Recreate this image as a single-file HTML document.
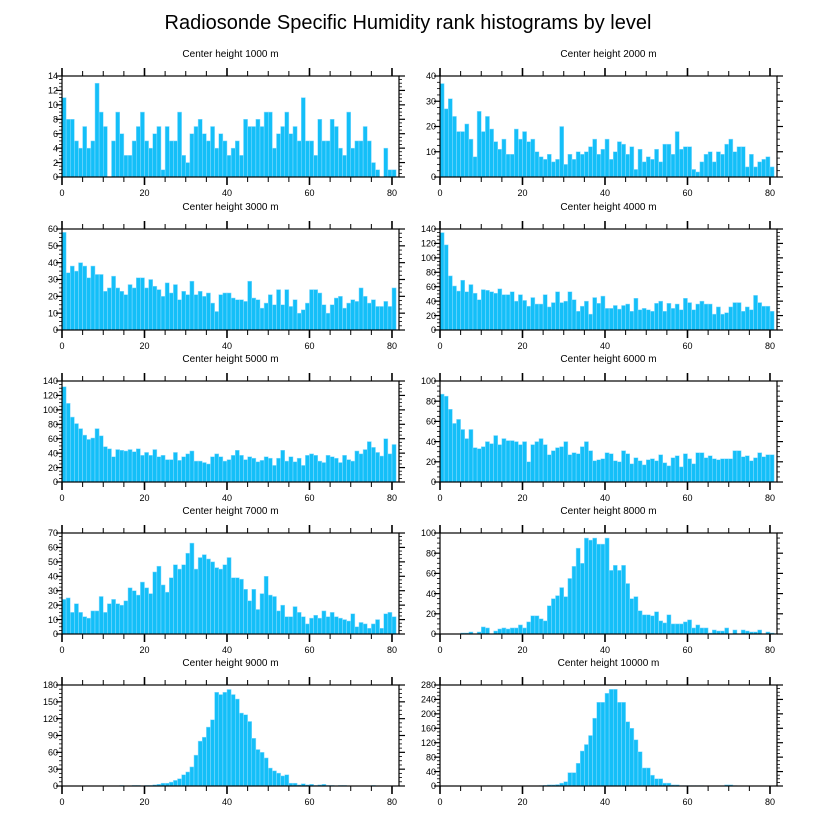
<!DOCTYPE html>
<html><head><meta charset="utf-8">
<style>
html,body{margin:0;padding:0;background:#fff;}
svg{display:block;font-family:"Liberation Sans",sans-serif;}
</style></head>
<body>
<svg id="chart" width="816" height="824" viewBox="0 0 816 824">
<text x="408" y="29" text-anchor="middle" font-size="20" fill="#000">Radiosonde Specific Humidity rank histograms by level</text>
</svg>
<script>
const panelTitles = ["Center height 1000 m","Center height 2000 m","Center height 3000 m","Center height 4000 m","Center height 5000 m","Center height 6000 m","Center height 7000 m","Center height 8000 m","Center height 9000 m","Center height 10000 m"];
const yMaxes = [14,40,60,140,140,100,70,100,180,280];
const yStepsMajor = [2,10,10,20,20,20,10,20,30,40];
const xTicks = [0,20,40,60,80];
const h1000 = [11,8,8,5,4,7,4,5,13,9,7,0,5,9,6,3,3,5,7,9,5,4,6,7,1,7,5,5,9,3,2,6,7,8,6,5,7,4,6,5,3,4,5,3,8,7,7,8,7,9,9,4,6,7,9,6,7,5,11,5,5,3,8,5,5,8,7,4,3,9,4,5,5,7,5,2,1,0,4,1,1];
const h2000 = [37,27,31,24,18,18,21,15,8,26,18,24,19,14,11,15,9,9,19,15,18,14,15,10,8,7,9,6,7,20,5,9,7,10,9,10,12,15,9,11,15,7,10,14,13,9,12,3,11,6,8,7,11,6,13,13,9,18,11,12,12,3,2,6,9,10,6,10,9,13,15,10,12,12,4,9,4,6,7,8,4];
const h3000 = [58,34,38,35,40,38,31,38,33,33,23,25,32,25,23,21,27,25,31,31,25,30,26,24,20,28,22,27,18,23,21,29,21,23,20,22,16,11,21,22,22,19,18,18,17,29,19,18,13,16,21,15,24,15,24,14,18,10,12,16,24,24,22,15,10,15,19,20,13,16,18,17,25,20,16,18,14,14,17,14,25];
const h4000 = [135,118,75,61,54,69,53,63,51,42,56,55,53,51,57,49,49,53,40,49,41,33,45,36,36,49,32,38,53,38,40,53,42,26,33,40,22,45,37,47,30,30,34,29,34,36,26,44,28,30,28,26,37,40,26,37,30,36,28,44,38,28,36,40,36,36,22,32,22,24,32,38,38,26,32,28,48,38,33,33,26];
const h5000 = [132,109,90,81,74,65,59,61,74,64,49,46,35,45,44,43,45,42,46,37,41,37,45,35,37,31,31,41,30,35,39,43,29,29,27,25,35,39,35,29,31,37,44,37,31,35,33,28,30,35,33,23,33,44,29,35,28,33,23,37,39,37,29,27,37,35,33,27,37,31,29,43,39,45,56,48,41,36,60,39,52];
const h6000 = [87,85,72,58,62,52,43,52,34,33,35,40,38,46,37,43,41,41,40,37,40,20,37,40,43,37,27,31,34,35,40,27,29,28,35,40,31,21,22,23,29,28,21,20,31,28,18,24,21,17,22,23,21,27,19,16,24,26,15,28,23,18,29,29,24,26,23,22,23,23,23,31,31,25,26,21,24,29,25,27,27];
const h7000 = [24,25,15,21,15,12,11,16,16,26,15,21,24,21,20,23,32,30,27,36,32,28,43,47,34,29,39,48,45,48,56,63,45,53,55,52,50,46,45,48,53,39,39,38,31,23,31,17,28,40,27,26,16,20,12,12,19,15,12,7,11,13,11,16,12,15,12,11,10,9,14,5,8,7,4,7,10,4,14,15,12];
const h8000 = [0,0,0,0,0,1,1,2,0,2,7,6,0,3,5,6,5,6,6,9,6,12,18,18,15,13,28,35,38,46,37,55,67,85,70,95,93,95,89,89,95,63,68,63,68,50,35,37,23,19,19,18,22,13,11,19,10,10,10,12,14,6,9,6,6,1,4,3,3,6,0,4,0,4,3,2,2,4,0,2,1];
const h9000 = [0,0,0,0,0,0,0,0,0,0,0,0,0,0,1,0,0,1,1,0,1,1,2,3,5,5,7,10,13,20,25,34,55,80,87,105,118,167,163,167,172,163,155,130,127,115,85,65,60,50,32,27,23,18,20,5,5,2,4,2,3,1,2,3,1,1,0,1,1,0,0,0,0,0,0,1,0,0,0,0,0];
const h10000 = [0,0,0,0,0,0,0,0,0,0,0,0,0,0,0,0,0,0,0,0,0,0,0,0,1,2,3,3,4,8,12,37,37,63,97,115,140,188,232,232,257,268,268,232,232,178,160,128,95,50,50,30,20,20,8,8,3,3,1,1,1,1,1,1,0,0,0,0,0,3,3,1,0,0,0,0,0,0,0,0,0];
const allData = [h1000,h2000,h3000,h4000,h5000,h6000,h7000,h8000,h9000,h10000];

const NS = "http://www.w3.org/2000/svg";
const svg = document.getElementById("chart");
function mk(tag, attrs, parent){
  const e = document.createElementNS(NS, tag);
  for (const k in attrs) e.setAttribute(k, attrs[k]);
  (parent||svg).appendChild(e);
  return e;
}
const X0 = [62, 440], PW = 337, PH = 101;
const TOPS = [76, 229, 381, 533, 685];
const XMAX = 81.7;

allData.forEach((data, p) => {
  const col = p % 2, row = Math.floor(p / 2);
  const left = X0[col], top = TOPS[row], bottom = top + PH, right = left + PW;
  const yMax = yMaxes[p], step = yStepsMajor[p];
  const xs = v => left + v / XMAX * PW;
  const ys = v => bottom - v / yMax * PH;
  const g = mk("g", {});
  
  

  const t = mk("text", {x: (left + right) / 2, y: top - 19, "text-anchor": "middle", "font-size": "10", fill: "#000"}, g);
  t.textContent = panelTitles[p];
  
  

  data.forEach((v, i) => {
    if (v <= 0) return;
    const r = mk("rect", {x: xs(i), y: ys(v), width: xs(i + 1) - xs(i), height: bottom - ys(v), fill: "#14bff8", stroke: "#8fdcff", "stroke-width": "0.5"}, g);
    
    
  });

  const frame = mk("rect", {x: left, y: top, width: PW, height: PH, fill: "none", stroke: "#000", "stroke-width": "1.2"}, g);
  
  

  // x ticks (top and bottom, outward)
  for (let v = 0; v <= 80; v += 5) {
    const major = v % 20 === 0;
    const len = major ? 8 : 5;
    mk("line", {x1: xs(v), x2: xs(v), y1: bottom, y2: bottom + len, stroke: "#000", "stroke-width": major ? 1.6 : 1}, g);
    mk("line", {x1: xs(v), x2: xs(v), y1: top, y2: top - len, stroke: "#000", "stroke-width": major ? 1.6 : 1}, g);
  }
  xTicks.forEach(v => {
    const tl = mk("text", {x: xs(v), y: bottom + 19, "text-anchor": "middle", "font-size": "9", fill: "#000"}, g);
    tl.textContent = v;
    
    
  });
  // y ticks
  const minor = step / 4;
  for (let k = 0; k * minor <= yMax + 1e-9; k++) {
    const v = k * minor;
    const major = k % 4 === 0;
    const len = major ? 6 : 3;
    mk("line", {x1: left, x2: left - len, y1: ys(v), y2: ys(v), stroke: "#000", "stroke-width": major ? 1.2 : 0.8}, g);
    mk("line", {x1: right, x2: right + len, y1: ys(v), y2: ys(v), stroke: "#000", "stroke-width": major ? 1.2 : 0.8}, g);
  }
  for (let v = 0; v <= yMax + 1e-9; v += step) {
    const yl = mk("text", {x: left - 4, y: ys(v) + 3.2, "text-anchor": "end", "font-size": "9", fill: "#000"}, g);
    yl.textContent = v;
    
    
  }
});
</script>
</body></html>
